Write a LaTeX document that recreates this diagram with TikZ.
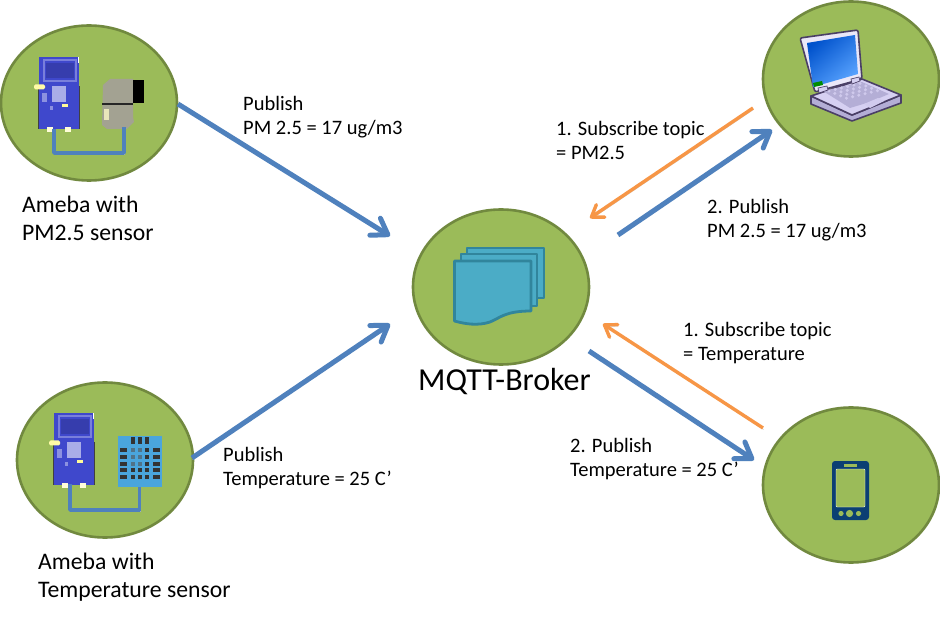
\documentclass[tikz,border=0pt]{standalone}
\usepackage{fontspec}
\setmainfont{Carlito}
\usetikzlibrary{arrows.meta,shapes.geometric}
\definecolor{gfill}{HTML}{9BBB59}
\definecolor{gline}{HTML}{71893F}
\definecolor{arrowblue}{HTML}{4F81BD}
\definecolor{arroworange}{HTML}{F79646}
\definecolor{boardblue}{HTML}{3F48CC}
\definecolor{docfill}{HTML}{4BACC6}
\definecolor{docline}{HTML}{31859C}
\definecolor{navy}{HTML}{0B3F73}
\definecolor{sensgray}{HTML}{A3A292}
\definecolor{dhtblue}{HTML}{4AA5DC}
\definecolor{lapline}{HTML}{4A3F66}
\definecolor{lapbody}{HTML}{D6D0F2}
\definecolor{lapkeys}{HTML}{B4AED6}
\tikzset{
 x=1pt,y=-1pt,
 hub/.style={ellipse,draw=gline,fill=gfill,line width=2.6pt,minimum width=176pt,minimum height=155pt,inner sep=0pt},
 softshadow/.style={preaction={draw=black!22,transform canvas={shift={(0.6pt,-1.6pt)}}}},
 flow/.style={softshadow,draw=arrowblue,line width=5pt,-{Straight Barb[length=15pt,width=20pt,line width=5pt,round]}},
 req/.style={softshadow,draw=arroworange,line width=3.4pt,-{Straight Barb[length=11pt,width=15pt,line width=3.4pt,round]}},
 lbl/.style={font=\fontsize{20.5}{24}\selectfont,align=left,anchor=north west,inner sep=0pt},
 captext/.style={font=\fontsize{23.7}{28}\selectfont,align=left,anchor=north west,inner sep=0pt},
 wire/.style={softshadow,draw=arrowblue,line width=3.6pt,line join=round},
}
\newcommand{\ameba}[2]{%
 \begin{scope}[shift={(#1,#2)}]
  \fill[black!75] (-1,29) rectangle (1,72);
  \fill[black!75] (39,29) rectangle (41,72);
  \fill[boardblue] (0,0) rectangle (40,72);
  \fill[white] (39,0) rectangle (40,6);
  \draw[boardblue!70!white,line width=1.5pt] (5,3) rectangle (37,24);
  \fill[boardblue!85!black] (7,6) rectangle (35,21);
  \fill[boardblue!45!white] (13,29) rectangle (27,45);
  \fill[boardblue!60!white] (11,49) rectangle (14,53);
  \fill[boardblue!60!white] (3,36) rectangle (8,45);
  \fill[yellow!40] (23,47) rectangle (29,50);
  \fill[yellow!35,rounded corners=1.5pt] (-5,27.5) rectangle (6,32.5);
  \fill[white!85!yellow] (8,70) rectangle (14,75);
  \fill[white!85!yellow] (26,70) rectangle (32,75);
 \end{scope}}
\begin{document}
\begin{tikzpicture}
\useasboundingbox (0,0) rectangle (940,617);
\fill[white] (0,0) rectangle (940,617);
% hubs
\node[hub] (pm) at (89,103) {};
\node[hub] (tmp) at (105,460) {};
\node[hub] (laptop) at (851,79) {};
\node[hub] (phone) at (851,485) {};
\node[hub] (broker) at (501,287) {};
% pm sensor device
\ameba{39}{57}
\fill[sensgray] (103,85) -- (110,79) -- (133,79) -- (133,117) -- (134,122) -- (127,129) -- (107,129) -- (102,125) -- cycle;
\fill[black] (133,80) rectangle (144,103);
\fill[black!85] (102,103) rectangle (133,105);
\fill[yellow!25!white!80!gray] (104,109) rectangle (109,120);
\draw[wire] (54,129) -- (54,153) -- (124,153) -- (124,127);
% temperature device
\ameba{54}{413}
\fill[dhtblue] (118,436) rectangle (162,487);
\foreach \yy/\cc in {450/black!35!dhtblue!60!gray,457/black!35!dhtblue!60!gray,464/black!35!dhtblue!60!gray,470/black!80,477/black!80}{
 \fill[\cc] (131,\yy-2) rectangle (135,\yy+2);
 \fill[\cc] (138,\yy-2) rectangle (142,\yy+2);
 \fill[black!80] (145,\yy-2) rectangle (149,\yy+2);
 \fill[black!80] (120,\yy-2) rectangle (127,\yy+2);
 \fill[black!80] (153,\yy-2) rectangle (160,\yy+2);
}
\fill[black!80] (131,437) rectangle (135,444);
\fill[black!80] (138,437) rectangle (142,444);
\fill[black!80] (145,437) rectangle (149,444);
\draw[wire] (70,484) -- (70,510) -- (139.500,510) -- (139.500,487);
% laptop
\draw[draw=lapline,fill=lapkeys,line width=1.6pt,line join=round] (811,96) -- (811,104) -- (852,121) -- (901,103) -- (901,95) -- (852,115) -- cycle;
\draw[draw=lapline,fill=lapbody,line width=1.6pt,line join=round] (811,96) -- (862,79) -- (901,95) -- (852,115) -- cycle;
\fill[lapkeys] (823,91) -- (862,82) -- (889,94) -- (870,102) -- (850,108) -- cycle;
\foreach \ii in {0,...,5}{\foreach \jj in {0,...,3}{
 \fill[lapbody!80!lapkeys] ({829+\ii*6.2+\jj*5.8},{91-\ii*1.5+\jj*2.4}) circle (1.7);
}}
\fill[lapbody!85!lapkeys] (864,104) -- (878,98) -- (884,101) -- (870,108) -- cycle;
\draw[draw=lapline,fill=lapbody!50!white,line width=1.6pt,line join=round,rounded corners=2pt] (800,38) -- (858,30) -- (862,79) -- (815,92) -- cycle;
\shade[left color=blue!60!cyan!80!black,right color=cyan!45!blue!65,shading angle=40] (807,43) -- (855,35) -- (858,74) -- (813,87) -- cycle;
\fill[green!55!black] (813,83) -- (822,81) -- (823,85) -- (814,87) -- cycle;
\draw[lapline,fill=lapbody,line width=0.7pt] (818,88) -- (827,86) -- (828,90) -- (819,93) -- cycle;
\draw[lapline,fill=lapbody,line width=0.7pt] (851,79) -- (859,77) -- (860,81) -- (852,84) -- cycle;
% phone
\fill[navy,rounded corners=3pt] (832,461) rectangle (869,520);
\draw[white!90!gfill,fill=gfill,line width=0.4pt,rounded corners=1pt] (836,469) rectangle (865,507);
\fill[gfill] (844,463.500) rectangle (857,466.500);
\fill[gfill] (841,513.500) circle (2.6);
\fill[gfill] (849.500,513.500) circle (3.6);
\fill[gfill] (858.500,513.500) circle (2.6);
% broker documents
\begin{scope}[draw=docline,fill=docfill,line width=2.8pt,line join=round]
\filldraw (467,248) rectangle (544,298);
\filldraw (461,254) rectangle (537,306);
\filldraw (454.500,261) -- (531,261) -- (531,311) .. controls (505,311) and (500,318) .. (490,322) .. controls (478,326) and (465,324) .. (454.500,321) -- cycle;
\end{scope}
% connectors
\coordinate (a1) at (178,104); \coordinate (a2) at (390,236);
\coordinate (b1) at (192,458); \coordinate (b2) at (390,324);
\coordinate (c1) at (753,108); \coordinate (c2) at (590,218);
\coordinate (d1) at (618,235); \coordinate (d2) at (772,130);
\coordinate (e1) at (763,428); \coordinate (e2) at (603,324);
\coordinate (f1) at (589,351); \coordinate (f2) at (754,460);
\draw[flow] (a1) -- (a2);
\draw[flow] (b1) -- (b2);
\draw[flow] (d1) -- (d2);
\draw[flow] (f1) -- (f2);
\draw[req] (c1) -- (c2);
\draw[req] (e1) -- (e2);
% labels
\node[lbl] (t1) at (243,96) {Publish\\PM 2.5 = 17 ug/m3};
\node[lbl] (t2) at (223,447) {Publish\\Temperature = 25 C’};
\node[lbl] (t3) at (556,121) {1. Subscribe topic\\= PM2.5};
\node[lbl] (t4) at (707,199) {2. Publish\\PM 2.5 = 17 ug/m3};
\node[lbl] (t5) at (683,322) {1. Subscribe topic\\= Temperature};
\node[lbl] (t6) at (570,438) {2. Publish\\Temperature = 25 C’};
\node[captext] (t7) at (22,196) {Ameba with\\PM2.5 sensor};
\node[captext] (t8) at (38,553) {Ameba with\\Temperature sensor};
\node[font=\fontsize{32}{36}\selectfont,anchor=north west,inner sep=0pt] (t9) at (418,368) {MQTT-Broker};
\end{tikzpicture}
\end{document}
